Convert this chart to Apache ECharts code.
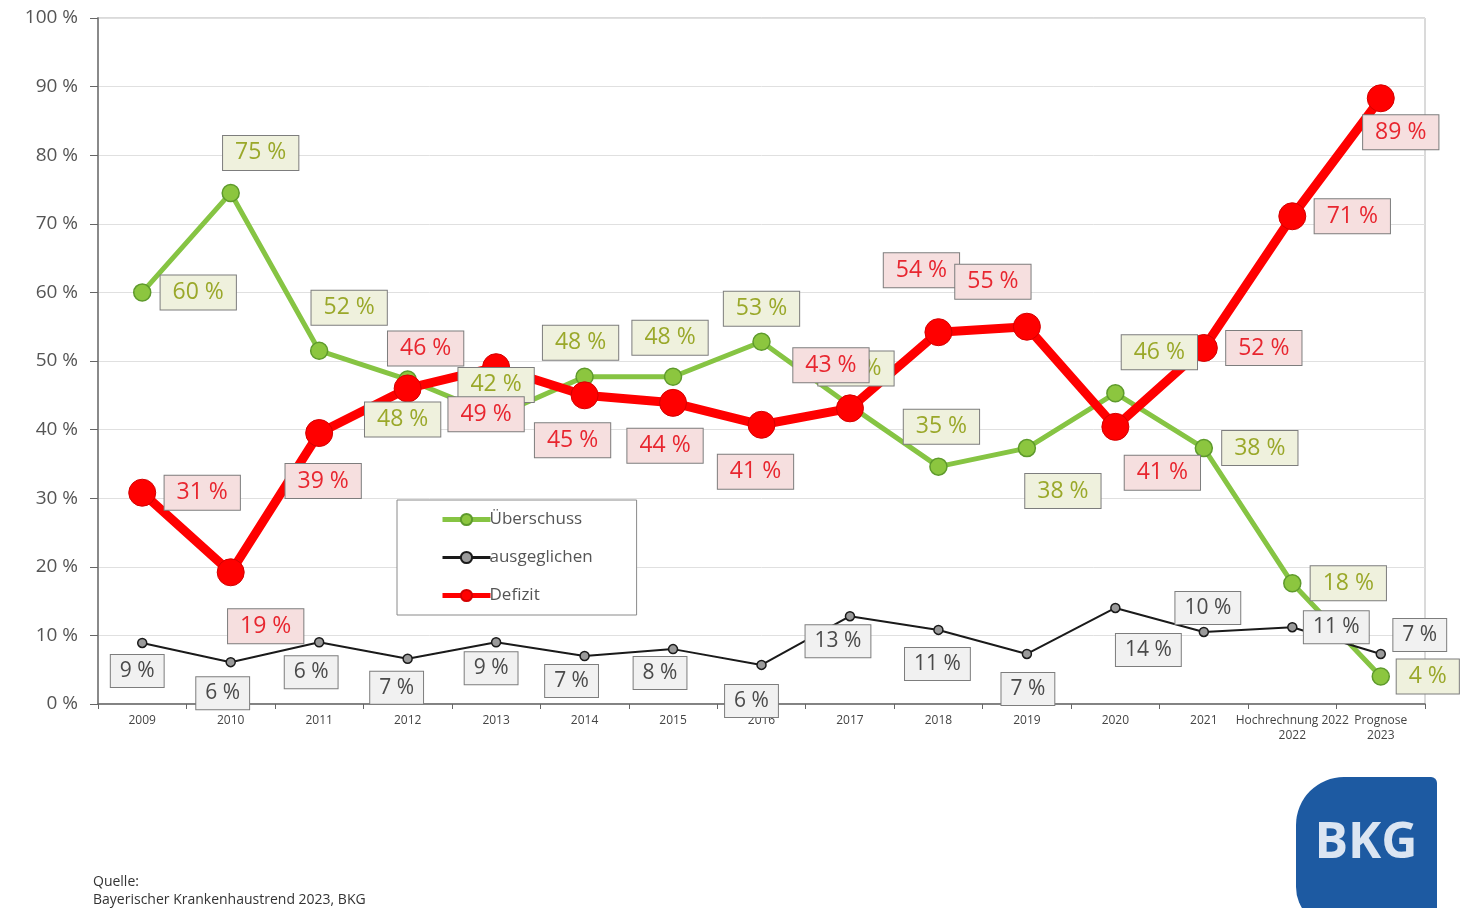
<!DOCTYPE html>
<html>
<head>
<meta charset="utf-8">
<script src="https://cdn.jsdelivr.net/npm/echarts@6/dist/echarts.min.js"></script>
<style>
html,body{margin:0;padding:0;background:#fff;}
#chart{width:1460px;height:908px;}
</style>
</head>
<body>
<div id="chart"></div>
<script>
// ---- data ----
const categories = ['2009','2010','2011','2012','2013','2014','2015','2016','2017','2018','2019','2020','2021','Hochrechnung 2022\n2022','Prognose\n2023'];
const ueberschuss = [60, 74.5, 51.5, 47.3, 42, 47.7, 47.7, 52.8, 43.5, 34.6, 37.3, 45.3, 37.3, 17.6, 4];
const ueberschussLabels = ['60 %','75 %','52 %','48 %','42 %','48 %','48 %','53 %','43 %','35 %','38 %','46 %','38 %','18 %','4 %'];
const ausgeglichen = [8.9, 6.1, 9.0, 6.6, 9.0, 7.0, 8.0, 5.7, 12.8, 10.8, 7.3, 14.0, 10.5, 11.2, 7.3];
const ausgeglichenLabels = ['9 %','6 %','6 %','7 %','9 %','7 %','8 %','6 %','13 %','11 %','7 %','14 %','10 %','11 %','7 %'];
const defizit = [30.8, 19.2, 39.5, 46, 49.1, 45, 43.9, 40.7, 43.1, 54.2, 55, 40.4, 51.9, 71.1, 88.3];
const defizitLabels = ['31 %','19 %','39 %','46 %','49 %','45 %','44 %','41 %','43 %','54 %','55 %','41 %','52 %','71 %','89 %'];

// ---- label offsets (layout only) ----
const greenOffsets = [[56,0],[30,-40],[30,-43],[-5,40],[0,-31],[-4,-34],[-3,-39],[0,-33],[6,-37],[3,-40],[36,43],[44,-41],[56,0],[56,0],[47,0]];
const blackOffsets = [[-5,28],[-8,31],[-8,30],[-11,29],[-5,26],[-13,25],[-13,24],[-10,36],[-12,25],[-1,34],[1,35],[33,42],[4,-24],[44,0],[39,-19]];
const redOffsets = [[60,0],[35,54],[4,48],[18,-40],[-10,47],[-12,45],[-8,43],[-6,47],[-19,-43],[-17,-62],[-34,-45],[47,46],[60,0],[60,0],[20,34]];

const FONT = '"Open Sans", "Noto Sans", sans-serif';

function build(values, labels, offsets) {
  return values.map((v, i) => ({
    value: v,
    label: { offset: offsets[i], formatter: labels[i] }
  }));
}

const greenLabel = {
  show: true, position: 'inside',
  fontSize: 23, color: '#9aa82a', fontFamily: FONT,
  backgroundColor: '#eff1dd', borderColor: '#7d7d7d', borderWidth: 1,
  padding: [6, 12, 5, 12]
};
const blackLabel = {
  show: true, position: 'inside',
  fontSize: 21, color: '#4a4a4a', fontFamily: FONT,
  backgroundColor: '#f1f1f1', borderColor: '#7d7d7d', borderWidth: 1,
  padding: [6, 9, 5, 9]
};
const redLabel = {
  show: true, position: 'inside',
  fontSize: 23, color: '#e8262f', fontFamily: FONT,
  backgroundColor: '#f6dfdf', borderColor: '#7d7d7d', borderWidth: 1,
  padding: [6, 12, 5, 12]
};

function labelSeries(id, values, labels, offsets, style, z) {
  return {
    id: id,
    type: 'line',
    data: build(values, labels, offsets),
    symbol: 'circle', symbolSize: 2,
    lineStyle: { color: 'rgba(0,0,0,0)', width: 0 },
    itemStyle: { color: 'rgba(0,0,0,0)', borderWidth: 0 },
    label: style,
    silent: true,
    z: z
  };
}

const chart = echarts.init(document.getElementById('chart'), null, {renderer: 'canvas'});

const option = {
  animation: false,
  backgroundColor: '#ffffff',
  textStyle: { fontFamily: FONT },
  grid: { left: 98, right: 35, top: 18, bottom: 204, show: true, borderColor: '#b5b5b5', borderWidth: 1, backgroundColor: 'transparent' },
  legend: {
    orient: 'vertical',
    left: 397, top: 500,
    padding: [11, 44, 11, 43],
    itemGap: 21,
    itemWidth: 48,
    itemHeight: 14,
    backgroundColor: '#ffffff',
    borderColor: '#8a8a8a',
    borderWidth: 1,
    z: 20,
    textStyle: { fontSize: 17, color: '#555', fontFamily: FONT, padding: [0,0,0,-6] },
    data: [
      { name: 'Überschuss', lineStyle: { width: 5 } },
      { name: 'ausgeglichen', lineStyle: { width: 3 } },
      { name: 'Defizit', lineStyle: { width: 5 } }
    ]
  },
  xAxis: {
    type: 'category',
    data: categories,
    boundaryGap: true,
    axisLine: { lineStyle: { color: '#666', width: 1.5 } },
    axisTick: { show: true, length: 5, lineStyle: { color: '#666' } },
    axisLabel: { fontSize: 12, color: '#444', margin: 9, lineHeight: 15, interval: 0, fontFamily: FONT }
  },
  yAxis: {
    type: 'value',
    min: 0, max: 100, interval: 10,
    axisLine: { show: true, lineStyle: { color: '#8a8a8a', width: 2 } },
    axisTick: { show: true, length: 8, lineStyle: { color: '#666' } },
    axisLabel: { formatter: '{value} %', fontSize: 19, color: '#555', margin: 20, fontFamily: FONT },
    splitLine: { lineStyle: { color: '#e0e0e0', width: 1 } }
  },
  series: [
    {
      name: 'Überschuss',
      type: 'line',
      data: ueberschuss,
      symbol: 'circle', symbolSize: 17,
      lineStyle: { color: '#86c443', width: 5 },
      itemStyle: { color: '#8cc63f', borderColor: '#5e9a2c', borderWidth: 1.5 },
      z: 2
    },
    {
      name: 'ausgeglichen',
      type: 'line',
      data: ausgeglichen,
      symbol: 'circle', symbolSize: 9,
      lineStyle: { color: '#1a1a1a', width: 2 },
      itemStyle: { color: '#9a9a9a', borderColor: '#1a1a1a', borderWidth: 1.5 },
      z: 3
    },
    {
      name: 'Defizit',
      type: 'line',
      data: defizit,
      symbol: 'circle', symbolSize: 27,
      lineStyle: { color: '#ff0000', width: 9 },
      itemStyle: { color: '#ff0000', borderColor: '#d40000', borderWidth: 1 },
      z: 4
    },
    labelSeries('lblGreen', ueberschuss, ueberschussLabels, greenOffsets, greenLabel, 10),
    labelSeries('lblBlack', ausgeglichen, ausgeglichenLabels, blackOffsets, blackLabel, 11),
    labelSeries('lblRed', defizit, defizitLabels, redOffsets, redLabel, 12)
  ],
  graphic: [
    { type: 'text', left: 93, top: 875, style: { text: 'Quelle:', fontSize: 14, fill: '#333', fontFamily: FONT } },
    { type: 'text', left: 93, top: 893, style: { text: 'Bayerischer Krankenhaustrend 2023, BKG', fontSize: 14, fill: '#333', fontFamily: FONT } },
    { type: 'rect', shape: { x: 1296, y: 777, width: 141, height: 150, r: [48, 6, 0, 40] }, style: { fill: '#1d5aa2' } },
    { type: 'text', x: 1366, y: 844, style: { text: 'BKG', fontSize: 50, fontWeight: 'bold', fill: '#dbe5f2', fontFamily: '"Open Sans", "DejaVu Sans", sans-serif', align: 'center', verticalAlign: 'middle' } }
  ]
};

chart.setOption(option);
</script>
</body>
</html>
